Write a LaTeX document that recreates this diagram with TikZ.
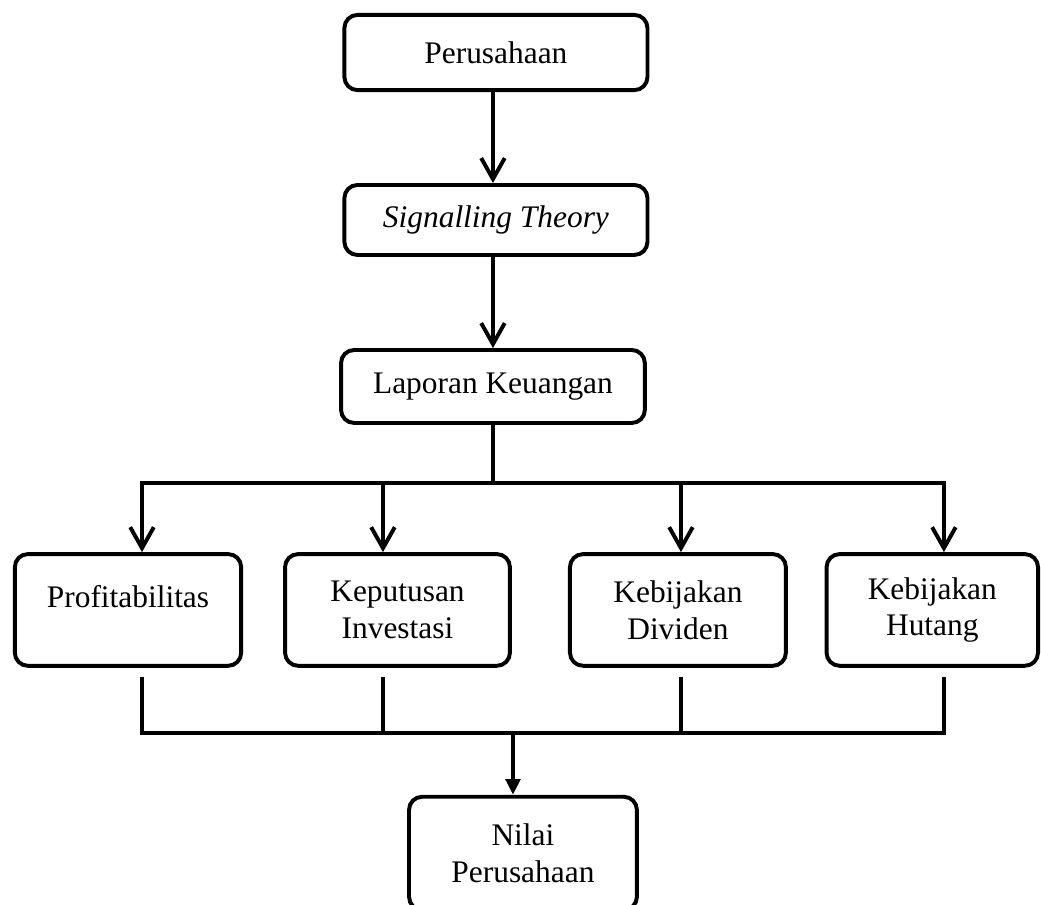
\documentclass[tikz,border=0pt]{standalone}
\usepackage{fontspec}
\setmainfont{Liberation Serif}
\usetikzlibrary{positioning,arrows.meta}
\tikzset{
  kotak/.style={rectangle, rounded corners=5pt, draw=black, line width=1.5pt,
    align=center, inner sep=2pt, font=\fontsize{12}{14}\selectfont},
  panah/.style={-{Straight Barb[length=8pt,width=9pt]}, line width=1.5pt},
  panahp/.style={-{Triangle[length=6pt,width=5.5pt]}, line width=1.5pt},
  garis/.style={line width=1.5pt, line cap=rect},
}

\begin{document}
\begin{tikzpicture}
  \useasboundingbox (0,0) rectangle (13.98,-12.15);
  \node[kotak, minimum width=4.07cm, minimum height=1.01cm] (per) at (6.66,-0.705) {Perusahaan};
  \node[kotak, minimum width=4.07cm, minimum height=0.94cm] (sig) at (6.66,-2.954) {\textit{Signalling Theory}};
  \node[kotak, minimum width=4.08cm, minimum height=0.98cm] (lap) at (6.62,-5.19) {Laporan Keuangan};
  \node[kotak, minimum width=3.04cm, minimum height=1.50cm] (profit) at (1.719,-8.191) {\raisebox{10pt}{Profitabilitas}};
  \node[kotak, minimum width=3.02cm, minimum height=1.50cm] (invest) at (5.338,-8.191) {Keputusan\\Investasi};
  \node[kotak, minimum width=2.90cm, minimum height=1.50cm] (divid) at (9.104,-8.191) {Kebijakan\\Dividen};
  \node[kotak, minimum width=2.84cm, minimum height=1.50cm] (hutang) at (12.52,-8.191) {Kebijakan\\Hutang};
  \node[kotak, minimum width=3.06cm, minimum height=1.52cm] (nilai) at (7.023,-11.46) {Nilai\\Perusahaan};

  % titik cabang
  \coordinate (atas) at (6.62,-6.486);
  \coordinate (a1) at (1.907,-6.486);
  \coordinate (a2) at (5.143,-6.486);
  \coordinate (a3) at (9.145,-6.486);
  \coordinate (a4) at (12.676,-6.486);
  \coordinate (bawah) at (6.889,-9.843);
  \coordinate (b1) at (1.907,-9.843);
  \coordinate (b2) at (5.143,-9.843);
  \coordinate (b3) at (9.145,-9.843);
  \coordinate (b4) at (12.676,-9.843);

  \draw[panah] (per.south -| atas) -- (sig.north -| atas);
  \draw[panah] (sig.south -| atas) -- (lap.north -| atas);
  \draw[garis] (lap.south -| atas) -- (atas);
  \draw[garis] (a1) -- (a4);
  \foreach \t/\k in {a1/profit, a2/invest, a3/divid, a4/hutang}
    \draw[panah] (\t) -- (\t |- \k.north);

  \draw[line width=1.5pt, shorten <=3.5pt, shorten >=3.5pt] (profit.south -| b1) -- (b1) -- (b4) -- (hutang.south -| b4);
  \foreach \t/\k in {b2/invest, b3/divid}
    \draw[garis, line cap=butt, shorten <=3.5pt] (\k.south -| \t) -- (\t);
  \draw[panahp] (bawah) -- (bawah |- nilai.north);
\end{tikzpicture}
\end{document}
